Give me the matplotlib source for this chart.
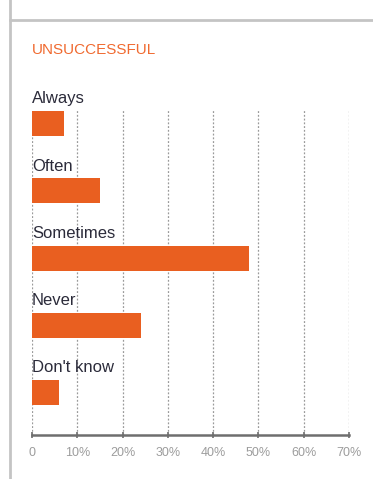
import matplotlib.pyplot as plt
from matplotlib.lines import Line2D

categories = ["Always", "Often", "Sometimes", "Never", "Don't know"]
values = [7, 15, 48, 24, 6]
ticks = [0, 10, 20, 30, 40, 50, 60, 70]
tick_labels = ["0", "10%", "20%", "30%", "40%", "50%", "60%", "70%"]

ORANGE = '#e95f20'
TITLE_ORANGE = '#f06a30'
GRID_GREY = '#9a9a9a'

W, H = 373, 479
fig = plt.figure(figsize=(W / 100, H / 100), dpi=100)
plt.rcParams['font.family'] = ['Liberation Sans', 'DejaVu Sans']

# frame lines on the page: left rule and top rule
fig.add_artist(Line2D([9.5 / W, 9.5 / W], [0, 1], color='#c4c4c4', lw=2,
                      transform=fig.transFigure))
fig.add_artist(Line2D([9.5 / W, 1], [1 - 20 / H, 1 - 20 / H], color='#c4c4c4',
                      lw=2, transform=fig.transFigure))

fig.text(32 / W, 1 - 50 / H, "UNSUCCESSFUL", color=TITLE_ORANGE, fontsize=11,
         va='center', ha='left')

# axes spans 0..70% horizontally, bars in rows 0..4 top to bottom
left, right = 32 / W, 349 / W
bottom, top = 1 - 435 / H, 1 - 85 / H
ax = fig.add_axes([left, bottom, right - left, top - bottom])

row = 67.25
ymin = (435 - 123.5) / row
ymax = (85 - 123.5) / row
ax.set_xlim(0, 70)
ax.set_ylim(ymin, ymax)

ypos = list(range(len(categories)))
ax.barh(ypos, values, height=25 / row, color=ORANGE, zorder=3)

for y, name in zip(ypos, categories):
    ax.text(0, y - 0.3, name, fontsize=12, color='#2b2b3a', ha='left',
            va='baseline', zorder=4)

grid_top = (110 - 123.5) / row
for t in ticks:
    ax.plot([t, t], [ymin, grid_top], color=GRID_GREY, lw=0.9,
            ls=(0, (1.5, 1.5)), zorder=1)

for s in ['top', 'right', 'left']:
    ax.spines[s].set_visible(False)
ax.spines['bottom'].set_color('#6e6e6e')
ax.spines['bottom'].set_linewidth(1.8)
ax.set_yticks([])
ax.set_xticks(ticks)
ax.set_xticklabels(tick_labels)
ax.tick_params(axis='x', direction='inout', length=5, width=1.2,
               color='#6e6e6e', labelsize=9, labelcolor='#9c9c9c', pad=6)

fig.savefig('out.png', dpi=100)
